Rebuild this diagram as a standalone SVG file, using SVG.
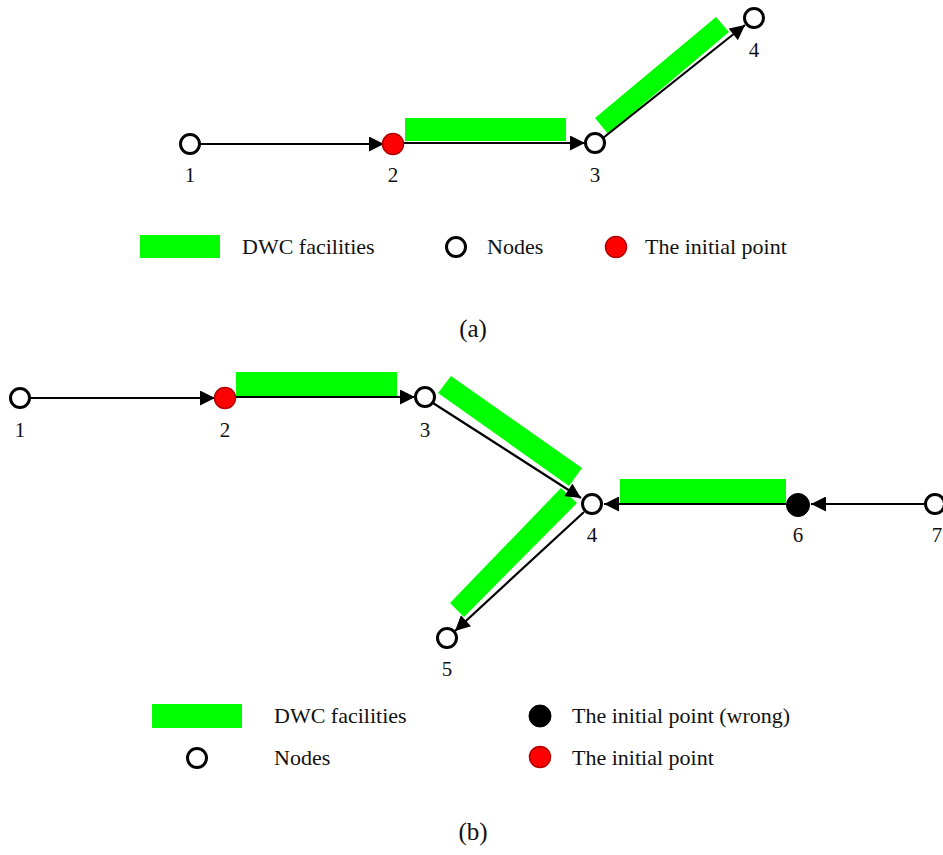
<svg xmlns="http://www.w3.org/2000/svg" width="943" height="855" viewBox="0 0 943 855">
<defs>
<style>
.node{fill:#fff;stroke:#000;stroke-width:3}
.init{fill:#ff0000;stroke:#b00000;stroke-width:1.5}
.wrong{fill:#000;stroke:#000;stroke-width:1}
.dwc{fill:#00ff00}
.edge{stroke:#000;stroke-width:2.2;fill:none;marker-end:url(#arr)}
.lbl{font-family:"Liberation Serif","Times New Roman",serif;font-size:21px;fill:#111;text-anchor:middle}
.leg{font-family:"Liberation Serif","Times New Roman",serif;font-size:22px;fill:#111}
.cap{font-family:"Liberation Serif","Times New Roman",serif;font-size:25px;fill:#111;text-anchor:middle}
</style>
<marker id="arr" viewBox="0 0 10 10" refX="10" refY="5" markerWidth="16" markerHeight="15" markerUnits="userSpaceOnUse" orient="auto">
<path d="M0,0 L10,5 L0,10 Z" fill="#000"/>
</marker>
</defs>
<rect width="943" height="855" fill="#fff"/>

<!-- Part (a) -->
<g id="a-facilities">
<rect class="dwc" x="405" y="118" width="161" height="23"/>
<polygon class="dwc" points="595,118 716,17 729,32 608,134"/>
</g>
<g id="a-connectors">
<line class="edge" x1="199" y1="144" x2="384" y2="144"/>
<line class="edge" x1="402" y1="143" x2="585" y2="143"/>
<line class="edge" x1="603" y1="138" x2="745" y2="25"/>
</g>
<g id="a-node1"><circle class="node" cx="190" cy="144" r="9.5"/><text class="lbl" x="190" y="182">1</text></g>
<g id="a-node2"><circle class="init" cx="393" cy="144" r="10.5"/><text class="lbl" x="393" y="182">2</text></g>
<g id="a-node3"><circle class="node" cx="595" cy="143" r="9.5"/><text class="lbl" x="595" y="182">3</text></g>
<g id="a-node4"><circle class="node" cx="754" cy="18" r="9.5"/><text class="lbl" x="754" y="57">4</text></g>

<g id="a-legend">
<rect class="dwc" x="140" y="235" width="80" height="23"/>
<text class="leg" x="242" y="254">DWC facilities</text>
<circle class="node" cx="456" cy="247" r="9.5"/>
<text class="leg" x="487" y="254">Nodes</text>
<circle class="init" cx="616" cy="247" r="10.5"/>
<text class="leg" x="645" y="254">The initial point</text>
</g>
<text class="cap" x="473" y="337">(a)</text>

<!-- Part (b) -->
<g id="b-facilities">
<rect class="dwc" x="236" y="372" width="161" height="24"/>
<polygon class="dwc" points="438,393 451,376 582,468 569,486"/>
<polygon class="dwc" points="561,488 577,503 464,617 450,603"/>
<rect class="dwc" x="620" y="479" width="166" height="24"/>
</g>
<g id="b-connectors">
<line class="edge" x1="29" y1="398" x2="215" y2="398"/>
<line class="edge" x1="234" y1="397" x2="415" y2="397"/>
<line class="edge" x1="433" y1="403" x2="581" y2="498"/>
<line class="edge" x1="584" y1="512" x2="455" y2="631"/>
<line class="edge" x1="786" y1="504" x2="604" y2="504"/>
<line class="edge" x1="925" y1="504" x2="811" y2="504"/>
</g>
<g id="b-node1"><circle class="node" cx="20" cy="398" r="9.5"/><text class="lbl" x="20" y="437">1</text></g>
<g id="b-node2"><circle class="init" cx="225" cy="398" r="10.5"/><text class="lbl" x="225" y="437">2</text></g>
<g id="b-node3"><circle class="node" cx="425" cy="397" r="9.5"/><text class="lbl" x="425" y="437">3</text></g>
<g id="b-node4"><circle class="node" cx="592" cy="504" r="9.5"/><text class="lbl" x="592" y="542">4</text></g>
<g id="b-node5"><circle class="node" cx="447" cy="638" r="9.5"/><text class="lbl" x="447" y="676">5</text></g>
<g id="b-node6"><circle class="wrong" cx="798" cy="505" r="11.5"/><text class="lbl" x="798" y="542">6</text></g>
<g id="b-node7"><circle class="node" cx="935" cy="504" r="9.5"/><text class="lbl" x="937" y="542">7</text></g>

<g id="b-legend">
<rect class="dwc" x="152" y="704" width="90" height="24"/>
<text class="leg" x="274" y="723">DWC facilities</text>
<circle class="wrong" cx="540" cy="716" r="11"/>
<text class="leg" x="572" y="723">The initial point (wrong)</text>
<circle class="node" cx="197" cy="758" r="9.5"/>
<text class="leg" x="274" y="765">Nodes</text>
<circle class="init" cx="540" cy="757" r="10.5"/>
<text class="leg" x="572" y="765">The initial point</text>
</g>
<text class="cap" x="473" y="840">(b)</text>
</svg>
